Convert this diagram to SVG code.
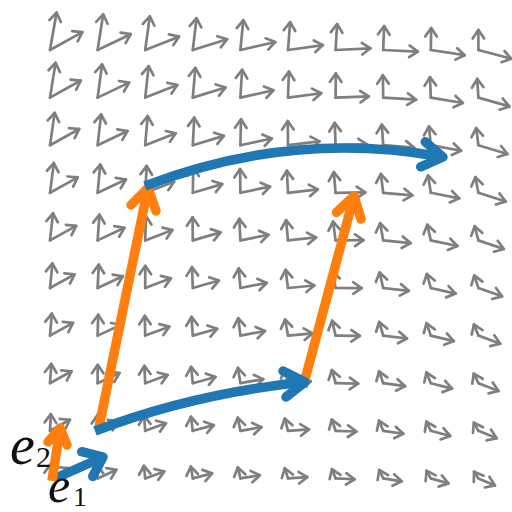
<svg xmlns="http://www.w3.org/2000/svg" width="512" height="512" viewBox="0 0 512 512">
<defs>
<marker id="g" markerUnits="userSpaceOnUse" markerWidth="24" markerHeight="24" viewBox="-12 -12 24 24" refX="0" refY="0" orient="auto" overflow="visible"><path d="M-8.5 -5.8L0 0L-8.5 5.8" fill="none" stroke="#7f7f7f" stroke-width="2.7" stroke-linecap="round" stroke-linejoin="round"/></marker>
</defs>
<style>
.f path{fill:none;stroke:#7f7f7f;stroke-width:2.7;stroke-linecap:round;marker-end:url(#g)}
.sh{fill:none;stroke-width:9.5;stroke-linecap:butt}
.hd{fill:none;stroke-width:9.5;stroke-linecap:round;stroke-linejoin:round}
.b{stroke:#1f77b4}
.o{stroke:#ff7f0e}
.t{font-family:"Liberation Serif","Times New Roman",serif;fill:#111}
</style>
<rect width="512" height="512" fill="#fff"/>
<g id="field" class="f">
<g transform="translate(0 50)">
<g transform="translate(50)"><path transform="rotate(-29)" d="M0 0h37"/><path transform="rotate(-80)" d="M0 0h38"/></g>
<g transform="translate(97.6)"><path transform="rotate(-25.5)" d="M0 0h36.7"/><path transform="rotate(-81.1)" d="M0 0h36"/></g>
<g transform="translate(145.2)"><path transform="rotate(-21.6)" d="M0 0h36.3"/><path transform="rotate(-82.2)" d="M0 0h34"/></g>
<g transform="translate(192.8)"><path transform="rotate(-17.4)" d="M0 0h36"/><path transform="rotate(-83.3)" d="M0 0h32"/></g>
<g transform="translate(240.4)"><path transform="rotate(-12.9)" d="M0 0h35.7"/><path transform="rotate(-84.4)" d="M0 0h30"/></g>
<g transform="translate(288)"><path transform="rotate(-8)" d="M0 0h35.3"/><path transform="rotate(-85.6)" d="M0 0h28"/></g>
<g transform="translate(335.6)"><path transform="rotate(-2.8)" d="M0 0h35"/><path transform="rotate(-86.7)" d="M0 0h26"/></g>
<g transform="translate(383.2)"><path transform="rotate(2.8)" d="M0 0h34.7"/><path transform="rotate(-87.8)" d="M0 0h24"/></g>
<g transform="translate(430.8)"><path transform="rotate(8.7)" d="M0 0h34.3"/><path transform="rotate(-88.9)" d="M0 0h22"/></g>
<g transform="translate(478.4)"><path transform="rotate(15)" d="M0 0h34"/><path transform="rotate(-90)" d="M0 0h20"/></g>
</g>
<g transform="translate(0 97.6)">
<g transform="translate(50)"><path transform="rotate(-29)" d="M0 0h35.2"/><path transform="rotate(-80.9)" d="M0 0h35.3"/></g>
<g transform="translate(97.6)"><path transform="rotate(-25.4)" d="M0 0h34.9"/><path transform="rotate(-82.3)" d="M0 0h33.5"/></g>
<g transform="translate(145.2)"><path transform="rotate(-21.4)" d="M0 0h34.5"/><path transform="rotate(-83.7)" d="M0 0h31.6"/></g>
<g transform="translate(192.8)"><path transform="rotate(-17.1)" d="M0 0h34.2"/><path transform="rotate(-85.1)" d="M0 0h29.8"/></g>
<g transform="translate(240.4)"><path transform="rotate(-12.5)" d="M0 0h33.9"/><path transform="rotate(-86.5)" d="M0 0h27.9"/></g>
<g transform="translate(288)"><path transform="rotate(-7.5)" d="M0 0h33.5"/><path transform="rotate(-88)" d="M0 0h26.1"/></g>
<g transform="translate(335.6)"><path transform="rotate(-2.2)" d="M0 0h33.2"/><path transform="rotate(-89.5)" d="M0 0h24.2"/></g>
<g transform="translate(383.2)"><path transform="rotate(3.5)" d="M0 0h32.9"/><path transform="rotate(-90.9)" d="M0 0h22.4"/></g>
<g transform="translate(430.8)"><path transform="rotate(9.5)" d="M0 0h32.5"/><path transform="rotate(-92.3)" d="M0 0h20.5"/></g>
<g transform="translate(478.4)"><path transform="rotate(15.9)" d="M0 0h32.2"/><path transform="rotate(-93.7)" d="M0 0h18.7"/></g>
</g>
<g transform="translate(0 145.2)">
<g transform="translate(50)"><path transform="rotate(-29)" d="M0 0h33.4"/><path transform="rotate(-81.8)" d="M0 0h32.7"/></g>
<g transform="translate(97.6)"><path transform="rotate(-25.3)" d="M0 0h33.1"/><path transform="rotate(-83.5)" d="M0 0h31"/></g>
<g transform="translate(145.2)"><path transform="rotate(-21.2)" d="M0 0h32.8"/><path transform="rotate(-85.2)" d="M0 0h29.3"/></g>
<g transform="translate(192.8)"><path transform="rotate(-16.8)" d="M0 0h32.4"/><path transform="rotate(-87)" d="M0 0h27.6"/></g>
<g transform="translate(240.4)"><path transform="rotate(-12.1)" d="M0 0h32.1"/><path transform="rotate(-88.7)" d="M0 0h25.9"/></g>
<g transform="translate(288)"><path transform="rotate(-7)" d="M0 0h31.8"/><path transform="rotate(-90.5)" d="M0 0h24.2"/></g>
<g transform="translate(335.6)"><path transform="rotate(-1.6)" d="M0 0h31.4"/><path transform="rotate(-92.2)" d="M0 0h22.4"/></g>
<g transform="translate(383.2)"><path transform="rotate(4.2)" d="M0 0h31.1"/><path transform="rotate(-93.9)" d="M0 0h20.7"/></g>
<g transform="translate(430.8)"><path transform="rotate(10.3)" d="M0 0h30.8"/><path transform="rotate(-95.6)" d="M0 0h19"/></g>
<g transform="translate(478.4)"><path transform="rotate(16.8)" d="M0 0h30.4"/><path transform="rotate(-97.4)" d="M0 0h17.3"/></g>
</g>
<g transform="translate(0 192.8)">
<g transform="translate(50)"><path transform="rotate(-29)" d="M0 0h31.7"/><path transform="rotate(-82.7)" d="M0 0h30"/></g>
<g transform="translate(97.6)"><path transform="rotate(-25.2)" d="M0 0h31.3"/><path transform="rotate(-84.7)" d="M0 0h28.4"/></g>
<g transform="translate(145.2)"><path transform="rotate(-21)" d="M0 0h31"/><path transform="rotate(-86.8)" d="M0 0h26.9"/></g>
<g transform="translate(192.8)"><path transform="rotate(-16.5)" d="M0 0h30.7"/><path transform="rotate(-88.8)" d="M0 0h25.3"/></g>
<g transform="translate(240.4)"><path transform="rotate(-11.7)" d="M0 0h30.3"/><path transform="rotate(-90.8)" d="M0 0h23.8"/></g>
<g transform="translate(288)"><path transform="rotate(-6.5)" d="M0 0h30"/><path transform="rotate(-92.9)" d="M0 0h22.2"/></g>
<g transform="translate(335.6)"><path transform="rotate(-1)" d="M0 0h29.7"/><path transform="rotate(-95)" d="M0 0h20.7"/></g>
<g transform="translate(383.2)"><path transform="rotate(4.9)" d="M0 0h29.3"/><path transform="rotate(-97)" d="M0 0h19.1"/></g>
<g transform="translate(430.8)"><path transform="rotate(11.1)" d="M0 0h29"/><path transform="rotate(-99)" d="M0 0h17.6"/></g>
<g transform="translate(478.4)"><path transform="rotate(17.7)" d="M0 0h28.7"/><path transform="rotate(-101)" d="M0 0h16"/></g>
</g>
<g transform="translate(0 240.4)">
<g transform="translate(50)"><path transform="rotate(-29)" d="M0 0h29.9"/><path transform="rotate(-83.6)" d="M0 0h27.3"/></g>
<g transform="translate(97.6)"><path transform="rotate(-25.1)" d="M0 0h29.6"/><path transform="rotate(-85.9)" d="M0 0h25.9"/></g>
<g transform="translate(145.2)"><path transform="rotate(-20.8)" d="M0 0h29.2"/><path transform="rotate(-88.3)" d="M0 0h24.5"/></g>
<g transform="translate(192.8)"><path transform="rotate(-16.2)" d="M0 0h28.9"/><path transform="rotate(-90.6)" d="M0 0h23.1"/></g>
<g transform="translate(240.4)"><path transform="rotate(-11.3)" d="M0 0h28.6"/><path transform="rotate(-92.9)" d="M0 0h21.7"/></g>
<g transform="translate(288)"><path transform="rotate(-6)" d="M0 0h28.2"/><path transform="rotate(-95.4)" d="M0 0h20.3"/></g>
<g transform="translate(335.6)"><path transform="rotate(-0.4)" d="M0 0h27.9"/><path transform="rotate(-97.7)" d="M0 0h18.9"/></g>
<g transform="translate(383.2)"><path transform="rotate(5.6)" d="M0 0h27.6"/><path transform="rotate(-100)" d="M0 0h17.5"/></g>
<g transform="translate(430.8)"><path transform="rotate(11.9)" d="M0 0h27.2"/><path transform="rotate(-102.4)" d="M0 0h16.1"/></g>
<g transform="translate(478.4)"><path transform="rotate(18.6)" d="M0 0h26.9"/><path transform="rotate(-104.7)" d="M0 0h14.7"/></g>
</g>
<g transform="translate(0 288)">
<g transform="translate(50)"><path transform="rotate(-29)" d="M0 0h28.1"/><path transform="rotate(-84.4)" d="M0 0h24.7"/></g>
<g transform="translate(97.6)"><path transform="rotate(-25)" d="M0 0h27.8"/><path transform="rotate(-87)" d="M0 0h23.4"/></g>
<g transform="translate(145.2)"><path transform="rotate(-20.6)" d="M0 0h27.4"/><path transform="rotate(-89.7)" d="M0 0h22.2"/></g>
<g transform="translate(192.8)"><path transform="rotate(-15.9)" d="M0 0h27.1"/><path transform="rotate(-92.3)" d="M0 0h20.9"/></g>
<g transform="translate(240.4)"><path transform="rotate(-10.9)" d="M0 0h26.8"/><path transform="rotate(-95)" d="M0 0h19.6"/></g>
<g transform="translate(288)"><path transform="rotate(-5.5)" d="M0 0h26.4"/><path transform="rotate(-97.7)" d="M0 0h18.4"/></g>
<g transform="translate(335.6)"><path transform="rotate(0.2)" d="M0 0h26.1"/><path transform="rotate(-100.4)" d="M0 0h17.1"/></g>
<g transform="translate(383.2)"><path transform="rotate(6.3)" d="M0 0h25.8"/><path transform="rotate(-103)" d="M0 0h15.9"/></g>
<g transform="translate(430.8)"><path transform="rotate(12.7)" d="M0 0h25.4"/><path transform="rotate(-105.6)" d="M0 0h14.6"/></g>
<g transform="translate(478.4)"><path transform="rotate(19.4)" d="M0 0h25.1"/><path transform="rotate(-108.3)" d="M0 0h13.3"/></g>
</g>
<g transform="translate(0 335.6)">
<g transform="translate(50)"><path transform="rotate(-29)" d="M0 0h26.3"/><path transform="rotate(-85.3)" d="M0 0h22"/></g>
<g transform="translate(97.6)"><path transform="rotate(-24.9)" d="M0 0h26"/><path transform="rotate(-88.3)" d="M0 0h20.9"/></g>
<g transform="translate(145.2)"><path transform="rotate(-20.4)" d="M0 0h25.7"/><path transform="rotate(-91.2)" d="M0 0h19.8"/></g>
<g transform="translate(192.8)"><path transform="rotate(-15.6)" d="M0 0h25.3"/><path transform="rotate(-94.2)" d="M0 0h18.7"/></g>
<g transform="translate(240.4)"><path transform="rotate(-10.5)" d="M0 0h25"/><path transform="rotate(-97.1)" d="M0 0h17.6"/></g>
<g transform="translate(288)"><path transform="rotate(-5)" d="M0 0h24.7"/><path transform="rotate(-100.2)" d="M0 0h16.4"/></g>
<g transform="translate(335.6)"><path transform="rotate(0.8)" d="M0 0h24.3"/><path transform="rotate(-103.1)" d="M0 0h15.3"/></g>
<g transform="translate(383.2)"><path transform="rotate(6.9)" d="M0 0h24"/><path transform="rotate(-106.1)" d="M0 0h14.2"/></g>
<g transform="translate(430.8)"><path transform="rotate(13.4)" d="M0 0h23.7"/><path transform="rotate(-109)" d="M0 0h13.1"/></g>
<g transform="translate(478.4)"><path transform="rotate(20.3)" d="M0 0h23.3"/><path transform="rotate(-112)" d="M0 0h12"/></g>
</g>
<g transform="translate(0 383.2)">
<g transform="translate(50)"><path transform="rotate(-29)" d="M0 0h24.6"/><path transform="rotate(-86.2)" d="M0 0h19.3"/></g>
<g transform="translate(97.6)"><path transform="rotate(-24.8)" d="M0 0h24.2"/><path transform="rotate(-89.5)" d="M0 0h18.4"/></g>
<g transform="translate(145.2)"><path transform="rotate(-20.2)" d="M0 0h23.9"/><path transform="rotate(-92.7)" d="M0 0h17.4"/></g>
<g transform="translate(192.8)"><path transform="rotate(-15.3)" d="M0 0h23.6"/><path transform="rotate(-96)" d="M0 0h16.4"/></g>
<g transform="translate(240.4)"><path transform="rotate(-10.1)" d="M0 0h23.2"/><path transform="rotate(-99.2)" d="M0 0h15.5"/></g>
<g transform="translate(288)"><path transform="rotate(-4.5)" d="M0 0h22.9"/><path transform="rotate(-102.6)" d="M0 0h14.5"/></g>
<g transform="translate(335.6)"><path transform="rotate(1.3)" d="M0 0h22.6"/><path transform="rotate(-105.9)" d="M0 0h13.6"/></g>
<g transform="translate(383.2)"><path transform="rotate(7.6)" d="M0 0h22.2"/><path transform="rotate(-109.1)" d="M0 0h12.6"/></g>
<g transform="translate(430.8)"><path transform="rotate(14.2)" d="M0 0h21.9"/><path transform="rotate(-112.4)" d="M0 0h11.6"/></g>
<g transform="translate(478.4)"><path transform="rotate(21.2)" d="M0 0h21.6"/><path transform="rotate(-115.6)" d="M0 0h10.7"/></g>
</g>
<g transform="translate(0 430.8)">
<g transform="translate(50)"><path transform="rotate(-29)" d="M0 0h22.8"/><path transform="rotate(-87.1)" d="M0 0h16.7"/></g>
<g transform="translate(97.6)"><path transform="rotate(-24.7)" d="M0 0h22.4"/><path transform="rotate(-90.7)" d="M0 0h15.9"/></g>
<g transform="translate(145.2)"><path transform="rotate(-20)" d="M0 0h22.1"/><path transform="rotate(-94.2)" d="M0 0h15"/></g>
<g transform="translate(192.8)"><path transform="rotate(-15)" d="M0 0h21.8"/><path transform="rotate(-97.8)" d="M0 0h14.2"/></g>
<g transform="translate(240.4)"><path transform="rotate(-9.7)" d="M0 0h21.4"/><path transform="rotate(-101.4)" d="M0 0h13.4"/></g>
<g transform="translate(288)"><path transform="rotate(-4)" d="M0 0h21.1"/><path transform="rotate(-105)" d="M0 0h12.6"/></g>
<g transform="translate(335.6)"><path transform="rotate(1.9)" d="M0 0h20.8"/><path transform="rotate(-108.6)" d="M0 0h11.8"/></g>
<g transform="translate(383.2)"><path transform="rotate(8.3)" d="M0 0h20.4"/><path transform="rotate(-112.2)" d="M0 0h11"/></g>
<g transform="translate(430.8)"><path transform="rotate(15)" d="M0 0h20.1"/><path transform="rotate(-115.8)" d="M0 0h10.2"/></g>
<g transform="translate(478.4)"><path transform="rotate(22.1)" d="M0 0h19.8"/><path transform="rotate(-119.3)" d="M0 0h9.3"/></g>
</g>
<g transform="translate(0 478.4)">
<g transform="translate(50)"><path transform="rotate(-29)" d="M0 0h21"/><path transform="rotate(-88)" d="M0 0h14"/></g>
<g transform="translate(97.6)"><path transform="rotate(-24.6)" d="M0 0h20.7"/><path transform="rotate(-91.9)" d="M0 0h13.3"/></g>
<g transform="translate(145.2)"><path transform="rotate(-19.8)" d="M0 0h20.3"/><path transform="rotate(-95.8)" d="M0 0h12.7"/></g>
<g transform="translate(192.8)"><path transform="rotate(-14.7)" d="M0 0h20"/><path transform="rotate(-99.6)" d="M0 0h12"/></g>
<g transform="translate(240.4)"><path transform="rotate(-9.3)" d="M0 0h19.7"/><path transform="rotate(-103.5)" d="M0 0h11.3"/></g>
<g transform="translate(288)"><path transform="rotate(-3.6)" d="M0 0h19.3"/><path transform="rotate(-107.5)" d="M0 0h10.7"/></g>
<g transform="translate(335.6)"><path transform="rotate(2.5)" d="M0 0h19"/><path transform="rotate(-111.4)" d="M0 0h10"/></g>
<g transform="translate(383.2)"><path transform="rotate(9)" d="M0 0h18.7"/><path transform="rotate(-115.2)" d="M0 0h9.3"/></g>
<g transform="translate(430.8)"><path transform="rotate(15.8)" d="M0 0h18.3"/><path transform="rotate(-119.1)" d="M0 0h8.7"/></g>
<g transform="translate(478.4)"><path transform="rotate(23)" d="M0 0h18"/><path transform="rotate(-123)" d="M0 0h8"/></g>
</g>
</g>
<g id="connectors">
<g id="orange-left"><path class="sh o" d="M99 427L147.5 190"/><path class="hd o" d="M131 205L148 188L156 211"/></g>
<g id="orange-right"><path class="sh o" d="M303 387L353.5 198"/><path class="hd o" d="M336.5 212.4L354 196L361 219"/></g>
<g id="blue-bottom"><path class="sh b" d="M95 431Q192 394 302 382.3"/><path class="hd b" d="M283 371L305 382L286 397"/></g>
<g id="blue-top"><path class="sh b" d="M145 186Q290 130 440 156.5"/><path class="hd b" d="M425.3 141.8L443 157L420.7 166.8"/></g>
<g id="e1-vec"><path class="sh b" d="M56 478L101 458"/><path class="hd b" d="M81.7 451.7L103 457L92.7 476.4"/></g>
<g id="e2-vec"><path class="sh o" d="M52 481L59.6 431"/><path class="hd o" d="M48 442L60 428L67 445"/></g>
</g>
<g id="labels">
<text class="t" x="10" y="464" font-size="56" font-style="italic">e</text>
<text class="t" x="36" y="467" font-size="30">2</text>
<text class="t" x="48" y="502" font-size="50" font-style="italic">e</text>
<text class="t" x="73" y="506" font-size="28">1</text>
</g>
</svg>
